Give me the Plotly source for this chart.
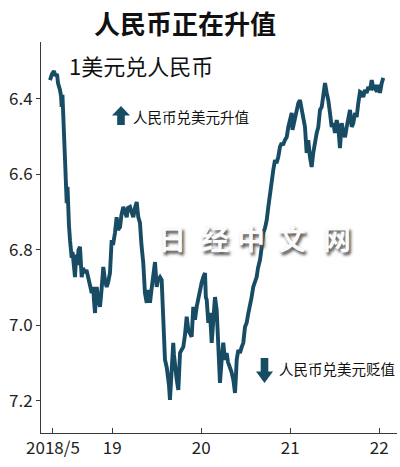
import plotly.graph_objects as go

# ---- data (decimal year, CNY per USD) ----
years = [
    2018.300, 2018.322, 2018.345, 2018.362, 2018.379, 2018.390, 2018.412, 2018.424, 2018.431, 2018.440,
    2018.449, 2018.457, 2018.469, 2018.480, 2018.488, 2018.497, 2018.506, 2018.513, 2018.525, 2018.536,
    2018.544, 2018.553, 2018.562, 2018.570, 2018.581, 2018.590, 2018.600, 2018.609, 2018.620, 2018.637,
    2018.648, 2018.656, 2018.671, 2018.693, 2018.710, 2018.730, 2018.749, 2018.769, 2018.787, 2018.794,
    2018.806, 2018.817, 2018.825, 2018.839, 2018.862, 2018.879, 2018.899, 2018.918, 2018.937, 2018.952,
    2018.974, 2018.993, 2019.008, 2019.030, 2019.049, 2019.064, 2019.087, 2019.103, 2019.124, 2019.143,
    2019.162, 2019.176, 2019.199, 2019.216, 2019.236, 2019.255, 2019.274, 2019.292, 2019.311, 2019.328,
    2019.348, 2019.367, 2019.387, 2019.404, 2019.424, 2019.440, 2019.461, 2019.480, 2019.499, 2019.513,
    2019.536, 2019.555, 2019.564, 2019.573, 2019.581, 2019.592, 2019.611, 2019.629, 2019.637, 2019.648,
    2019.660, 2019.667, 2019.685, 2019.693, 2019.704, 2019.724, 2019.742, 2019.749, 2019.761, 2019.778,
    2019.798, 2019.817, 2019.836, 2019.854, 2019.873, 2019.892, 2019.910, 2019.929, 2019.948, 2019.963,
    2019.985, 2020.004, 2020.022, 2020.042, 2020.051, 2020.061, 2020.079, 2020.098, 2020.117, 2020.135,
    2020.154, 2020.173, 2020.191, 2020.210, 2020.229, 2020.247, 2020.266, 2020.285, 2020.300, 2020.322,
    2020.339, 2020.360, 2020.379, 2020.390, 2020.398, 2020.416, 2020.435, 2020.452, 2020.472, 2020.491,
    2020.510, 2020.525, 2020.547, 2020.564, 2020.584, 2020.603, 2020.622, 2020.637, 2020.660, 2020.679,
    2020.697, 2020.716, 2020.735, 2020.753, 2020.772, 2020.791, 2020.809, 2020.828, 2020.845, 2020.865,
    2020.884, 2020.903, 2020.918, 2020.940, 2020.960, 2020.978, 2020.997, 2021.016, 2021.025, 2021.036,
    2021.053, 2021.072, 2021.090, 2021.109, 2021.128, 2021.146, 2021.165, 2021.184, 2021.202, 2021.221,
    2021.240, 2021.258, 2021.278, 2021.297, 2021.315, 2021.334, 2021.353, 2021.371, 2021.390, 2021.409,
    2021.427, 2021.446, 2021.465, 2021.483, 2021.502, 2021.521, 2021.539, 2021.558, 2021.578, 2021.596,
    2021.615, 2021.634, 2021.652, 2021.671, 2021.690, 2021.708, 2021.727, 2021.746, 2021.764, 2021.783,
    2021.802, 2021.820, 2021.839, 2021.858, 2021.876, 2021.896, 2021.915, 2021.933, 2021.952, 2021.971,
    2021.989, 2022.008, 2022.027, 2022.045,
]
rates = [
    6.350, 6.334, 6.326, 6.339, 6.334, 6.358, 6.376, 6.392, 6.421, 6.389,
    6.442, 6.490, 6.562, 6.615, 6.676, 6.633, 6.713, 6.734, 6.774, 6.800,
    6.821, 6.805, 6.834, 6.853, 6.872, 6.832, 6.813, 6.840, 6.800, 6.792,
    6.826, 6.872, 6.848, 6.861, 6.853, 6.880, 6.893, 6.914, 6.898, 6.932,
    6.967, 6.919, 6.898, 6.927, 6.951, 6.906, 6.845, 6.880, 6.898, 6.887,
    6.861, 6.774, 6.787, 6.755, 6.713, 6.747, 6.739, 6.707, 6.686, 6.699,
    6.713, 6.689, 6.686, 6.699, 6.713, 6.689, 6.673, 6.713, 6.728, 6.787,
    6.834, 6.914, 6.940, 6.906, 6.940, 6.906, 6.861, 6.832, 6.898, 6.880,
    6.872, 6.880, 6.932, 6.993, 7.038, 7.091, 7.110, 7.136, 7.158, 7.197,
    7.158, 7.110, 7.046, 7.078, 7.110, 7.144, 7.171, 7.118, 7.073, 7.065,
    7.057, 7.025, 6.977, 7.012, 7.020, 7.030, 6.951, 6.985, 6.951, 6.932,
    6.906, 6.887, 6.872, 6.861, 6.925, 6.932, 6.993, 6.967, 7.046, 6.985,
    6.925, 6.959, 7.046, 7.152, 7.091, 7.046, 7.091, 7.073, 7.097, 7.110,
    7.123, 7.144, 7.179, 7.131, 7.091, 7.065, 7.073, 7.059, 7.046, 7.004,
    6.993, 6.972, 6.951, 6.927, 6.898, 6.885, 6.872, 6.848, 6.826, 6.792,
    6.755, 6.742, 6.721, 6.686, 6.649, 6.623, 6.588, 6.562, 6.570, 6.554,
    6.527, 6.517, 6.522, 6.509, 6.501, 6.474, 6.448, 6.437, 6.482, 6.469,
    6.456, 6.429, 6.411, 6.403, 6.429, 6.456, 6.474, 6.543, 6.509, 6.554,
    6.580, 6.543, 6.509, 6.490, 6.474, 6.429, 6.421, 6.395, 6.358, 6.384,
    6.403, 6.437, 6.474, 6.464, 6.490, 6.456, 6.474, 6.530, 6.464, 6.490,
    6.501, 6.474, 6.456, 6.429, 6.474, 6.464, 6.437, 6.448, 6.411, 6.381,
    6.384, 6.395, 6.376, 6.384, 6.368, 6.376, 6.350, 6.371, 6.368, 6.381,
    6.363, 6.384, 6.358, 6.344,
]
x_tickvals = [2018.333, 2019, 2020, 2021, 2022]
x_ticktext = ["2018/5", "19", "20", "21", "22"]
y_tickvals = [6.4, 6.6, 6.8, 7.0, 7.2]
y_ticktext = ["6.4", "6.6", "6.8", "7.0", "7.2"]

title_text = "人民币正在升值"
subtitle_text = "1美元兑人民币"
up_text = "人民币兑美元升值"
down_text = "人民币兑美元贬值"
watermark_chars = ["日", "经", "中", "文", "网"]

# ---- layout geometry ----
W, H = 400, 467
L, R, T, B = 41, 3, 42, 34
LINE = "#174c64"
FONT = "Noto Sans CJK SC"


def px(x):
    return (x - L) / (W - L - R)


def py(y):
    return (H - B - y) / (H - T - B)


def arrow_path(cx, y_tip, y_base, y_end, head_half, shaft_half):
    pts = [(cx, y_tip), (cx + head_half, y_base), (cx + shaft_half, y_base),
           (cx + shaft_half, y_end), (cx - shaft_half, y_end), (cx - shaft_half, y_base),
           (cx - head_half, y_base)]
    return "M " + " L ".join(f"{px(a):.4f},{py(b):.4f}" for a, b in pts) + " Z"


fig = go.Figure()
fig.add_trace(go.Scatter(
    x=years, y=rates, mode="lines",
    line=dict(color=LINE, width=3.9),
    hoverinfo="skip", showlegend=False,
))

axis_color = "#3a3a3a"
fig.update_xaxes(
    range=[2018.199, 2022.199], automargin=False,
    tickmode="array", tickvals=x_tickvals, ticktext=x_ticktext,
    ticks="inside", ticklen=5, tickwidth=1, tickcolor=axis_color,
    showline=True, linecolor=axis_color, linewidth=1,
    showgrid=False, zeroline=False,
    tickfont=dict(family=FONT, size=17, color="#222"),
)
fig.update_yaxes(
    range=[7.285, 6.249], automargin=False,
    tickmode="array", tickvals=y_tickvals, ticktext=y_ticktext,
    ticks="outside", ticklen=4, tickwidth=1, tickcolor=axis_color,
    showline=True, linecolor=axis_color, linewidth=1,
    showgrid=False, zeroline=False,
    tickfont=dict(family=FONT, size=17, color="#222"),
)

annotations = [
    dict(text=f"<b>{title_text}</b>", x=px(185), y=py(23), xref="paper", yref="paper",
         xanchor="center", yanchor="middle", showarrow=False,
         font=dict(family=FONT, size=26, color="#111")),
    dict(text=subtitle_text, x=px(67), y=py(65), xref="paper", yref="paper",
         xanchor="left", yanchor="middle", showarrow=False,
         font=dict(family=FONT, size=22, color="#111")),
    dict(text=up_text, x=px(131), y=py(117), xref="paper", yref="paper",
         xanchor="left", yanchor="middle", showarrow=False,
         font=dict(family=FONT, size=14.5, color="#111")),
    dict(text=down_text, x=px(277), y=py(368), xref="paper", yref="paper",
         xanchor="left", yanchor="middle", showarrow=False,
         font=dict(family=FONT, size=14.5, color="#111")),
]
wm_centers = [172, 215, 251, 292, 337]
for ch, cx in zip(watermark_chars, wm_centers):
    annotations.append(dict(
        text=f"<b>{ch}</b>", x=px(cx), y=py(238), xref="paper", yref="paper",
        xanchor="center", yanchor="middle", showarrow=False,
        font=dict(family=FONT, size=28, color="#fbfbfb",
                  shadow="2px 3px 3px #555555"),
    ))

shapes = [
    dict(type="path", xref="paper", yref="paper",
         path=arrow_path(121, 106, 115.5, 125, 9, 3.8),
         fillcolor=LINE, line=dict(width=0)),
    dict(type="path", xref="paper", yref="paper",
         path=arrow_path(264.5, 383, 371.5, 358, 8.5, 3.8),
         fillcolor=LINE, line=dict(width=0)),
]

fig.update_layout(
    width=W, height=H,
    margin=dict(l=L, r=R, t=T, b=B, pad=0, autoexpand=False),
    paper_bgcolor="white", plot_bgcolor="white",
    annotations=annotations, shapes=shapes,
    showlegend=False,
)

fig.write_html(
    "out.html",
    config={"displayModeBar": False},
    post_script="document.body.style.margin='0';document.body.style.overflow='hidden';",
)
